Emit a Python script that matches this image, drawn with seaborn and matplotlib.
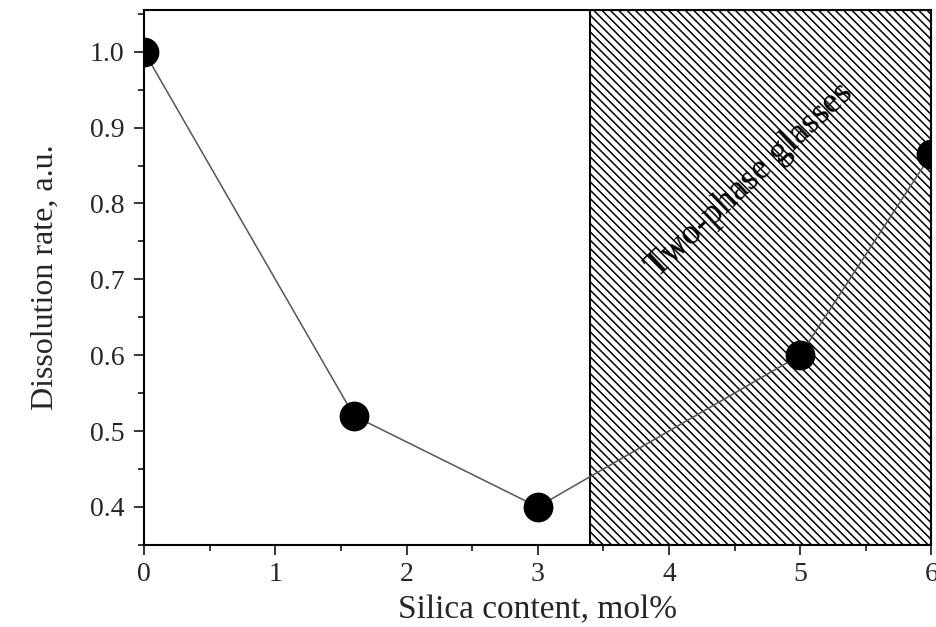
import pandas as pd
import matplotlib.pyplot as plt
import seaborn as sns
from matplotlib.patches import Polygon
from matplotlib.ticker import MultipleLocator

# data
silica = [0.0, 1.6, 3.0, 5.0, 6.0]
rate = [1.0, 0.52, 0.40, 0.60, 0.865]
two_phase_start = 3.4
two_phase_end = 6.0


def plot_dissolution():
    sns.set_style("ticks")
    plt.rcParams["font.family"] = ["Liberation Serif", "DejaVu Serif"]
    plt.rcParams["hatch.linewidth"] = 1.1

    df = pd.DataFrame({"silica": silica, "rate": rate})

    fig = plt.figure(figsize=(9.36, 6.27), dpi=100)
    ax = fig.add_axes([0.154, 0.131, 0.841, 0.853])

    # hatched two-phase region
    ax.axvspan(two_phase_start, two_phase_end, facecolor="white", edgecolor="black",
               hatch="\\\\\\\\", linewidth=1.5, zorder=1)

    sns.lineplot(data=df, x="silica", y="rate", ax=ax, color="#555555", linewidth=1.1,
                 zorder=2)
    sns.scatterplot(data=df, x="silica", y="rate", ax=ax, color="black", s=460,
                    edgecolor="black", linewidth=0, zorder=3)

    # markers at the edges are cut by the frame; a non-rectangular clip path
    # forces a real mask so the half circles show like in the original
    frame = Polygon([[0, 0], [1, 0], [1, 1], [0, 1]], closed=True,
                    transform=ax.transAxes, visible=False)
    for coll in ax.collections:
        coll.set_clip_path(frame)

    ax.text(4.62, 0.83, "Two-phase glasses", rotation=43, fontsize=26,
            ha="center", va="center", color="black", zorder=4)

    ax.set_xlim(0, 6)
    ax.set_ylim(0.35, 1.055)
    ax.xaxis.set_major_locator(MultipleLocator(1))
    ax.xaxis.set_minor_locator(MultipleLocator(0.5))
    ax.yaxis.set_major_locator(MultipleLocator(0.1))
    ax.yaxis.set_minor_locator(MultipleLocator(0.05))
    ax.yaxis.set_major_formatter(plt.FormatStrFormatter("%.1f"))
    ax.tick_params(which="major", direction="out", length=7, width=1.3, labelsize=20)
    ax.tick_params(axis="y", which="major", pad=7)
    ax.tick_params(axis="x", which="major", pad=5)
    ax.tick_params(which="minor", direction="out", length=4.5, width=1.3)

    for side in ["top", "right", "left", "bottom"]:
        ax.spines[side].set_visible(True)
        ax.spines[side].set_linewidth(1.5)
        ax.spines[side].set_color("black")

    ax.set_xlabel("Silica content, mol%", fontsize=24, labelpad=6)
    ax.set_ylabel("Dissolution rate, a.u.", fontsize=23, labelpad=22)

    fig.savefig("out.png", dpi=100)
    plt.close(fig)


if __name__ == "__main__":
    plot_dissolution()
